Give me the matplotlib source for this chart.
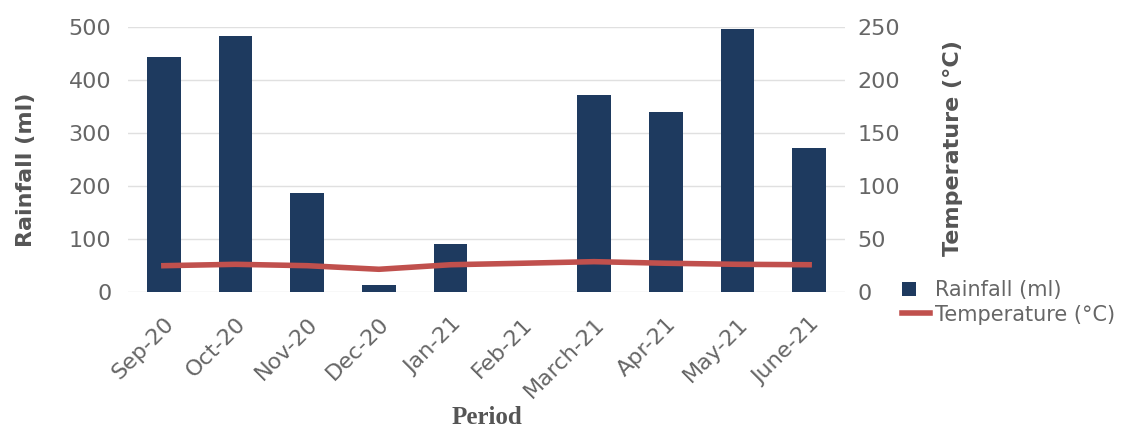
import matplotlib
matplotlib.use("Agg")
import matplotlib.pyplot as plt
from matplotlib.lines import Line2D
from matplotlib.patches import Patch, Rectangle
from matplotlib.legend_handler import HandlerPatch

periods = ["Sep-20", "Oct-20", "Nov-20", "Dec-20", "Jan-21", "Feb-21",
           "March-21", "Apr-21", "May-21", "June-21"]
rainfall = [444, 483, 187, 12, 89, 0, 371, 339, 497, 271]
temperature = [24.4, 25.7, 24.4, 21, 25.3, 26.7, 28.2, 26.7, 25.7, 25.3]

bar_color = "#1e3a5f"
line_color = "#c0504d"
tick_color = "#666666"
label_color = "#555555"

plt.rcParams['font.family'] = ['DejaVu Sans']

W, H = 1125, 433
L, R, T, B = 128, 845, 27, 291.5
fig = plt.figure(figsize=(W / 100, H / 100), dpi=100)
ax = fig.add_axes([L / W, 1 - B / H, (R - L) / W, (B - T) / H])
x = list(range(len(periods)))
ax.bar(x, rainfall, width=0.47, color=bar_color, zorder=2)
ax.set_ylim(0, 500)
ax.set_xlim(-0.5, 9.5)
ax.set_yticks([0, 100, 200, 300, 400, 500])
ax.grid(axis='y', color='#e0e0e0', linewidth=1, zorder=0)
for s in ax.spines.values():
    s.set_visible(False)
ax.tick_params(axis='y', length=0, labelsize=16, colors=tick_color, pad=12)
ax.tick_params(axis='x', length=0, labelsize=16, colors=tick_color, pad=16)
ax.set_xticks(x)
ax.set_xticklabels(periods, rotation=45, ha='right', rotation_mode='anchor')
ax.set_ylabel("Rainfall (ml)", fontsize=16, fontweight='bold', color=label_color,
              va='center')
ax.yaxis.set_label_coords((26 - L) / (R - L), (B - 170) / (B - T))
ax.set_xlabel("Period", fontsize=18, fontweight='bold', color=label_color,
              family=['Liberation Serif', 'DejaVu Serif'])
ax.xaxis.set_label_coords(0.5, (B - 406) / (B - T))

ax2 = ax.twinx()
ax2.plot(x, temperature, color=line_color, linewidth=4, zorder=3)
ax2.set_ylim(0, 250)
ax2.set_yticks([0, 50, 100, 150, 200, 250])
for s in ax2.spines.values():
    s.set_visible(False)
ax2.tick_params(axis='y', length=0, labelsize=16, colors=tick_color, pad=9)
ax2.set_ylabel("Temperature (°C)", fontsize=16, fontweight='bold', color=label_color,
               va='center')
ax2.yaxis.set_label_coords((953 - L) / (R - L), (B - 148) / (B - T))


class SquareHandler(HandlerPatch):
    def create_artists(self, legend, orig_handle, xdescent, ydescent, width,
                       height, fontsize, trans):
        s = 10.2
        p = Rectangle((-xdescent, -ydescent + (height - s) / 2), s, s,
                      facecolor=orig_handle.get_facecolor(), transform=trans)
        return [p]


rain_handle = Patch(facecolor=bar_color, label="Rainfall (ml)")
temp_handle = Line2D([0], [0], color=line_color, linewidth=4, label="Temperature (°C)")
leg = fig.legend(handles=[rain_handle, temp_handle], loc='upper left',
                 bbox_to_anchor=(902 / W, 1 - 280 / H), frameon=False,
                 fontsize=15, handlelength=1.35, handletextpad=0.25,
                 labelspacing=0.22, borderpad=0, borderaxespad=0,
                 labelcolor=tick_color,
                 handler_map={Patch: SquareHandler()})
fig.savefig("out.png", dpi=100)
